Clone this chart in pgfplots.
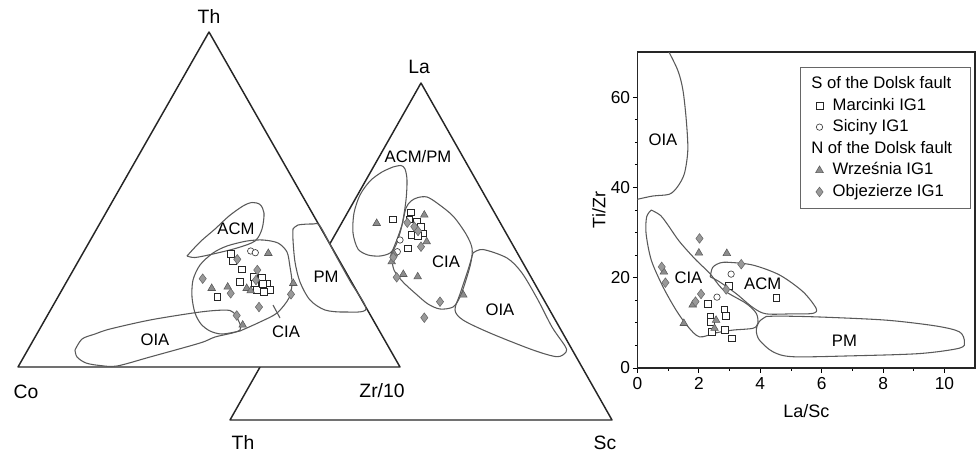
\documentclass[border=0pt]{standalone}
\usepackage{pgfplots}
\pgfplotsset{compat=1.18}
\usepackage{fontspec}
\setmainfont{Liberation Sans}
\newcommand{\fs}{\fontsize{12.5}{15}\selectfont}
\newcommand{\fv}{\fontsize{14.5}{17}\selectfont}
\pgfplotsset{
  marc/.style={only marks, mark=square*, mark size=2.5pt, mark options={fill=white, draw=black!85, line width=0.5pt}},
  sic/.style={only marks, mark=*, mark size=2.4pt, mark options={fill=white, draw=black!75, line width=0.5pt}},
  wrz/.style={only marks, mark=triangle*, mark size=3.3pt, mark options={fill=black!45, draw=black!65, line width=0.4pt}},
  obj/.style={only marks, mark=diamond*, mark size=3.6pt, mark options={fill=black!40, draw=black!60, line width=0.4pt}},
  blob/.style={no marks, smooth, draw=black!65, line width=0.8pt},
  edge/.style={no marks, sharp plot, draw=black!85, line width=1.1pt, line join=round, line cap=round},
}
\begin{document}
\begin{tikzpicture}
\useasboundingbox (0pt,0pt) rectangle (732pt,-340.5pt);
% ---------------- ternary diagrams (pixel frame of the figure) ----------------
\begin{axis}[at={(0pt,0pt)}, anchor=north west, hide axis, clip=false,
  x=0.75pt, y=0.75pt, y dir=reverse, xmin=0, xmax=976, ymin=0, ymax=454]
% triangle 2: La - Th - Sc
\addplot[edge] coordinates {(230,420) (612,420) (421,83) (230,420)};
\addplot[blob] coordinates {(393,167) (401,165.5) (405,169) (407,180) (406,200) (402,225) (396,245) (390,253) (380,256) (368,255) (358,249) (353,233) (354,213) (360,195) (370,181) (382,172) (393,167)};
\addplot[blob] coordinates {(391,254) (396,242) (402,225) (406,208) (411,201) (418,197.5) (427,197) (437,203) (453,216) (466,234) (472,248) (471,262) (466,280) (460,297) (453,307) (440,309) (428,304) (416,294) (403,282) (394,270) (391,254)};
\addplot[blob] coordinates {(473,253) (483,249.5) (507,258) (522,273) (538,300) (552,327) (565,346) (566,352) (557,356.7) (533,350) (490,333) (463,320) (455,310) (460,294) (468,270) (473,253)};
\addplot[marc] coordinates {(392.7,219.3) (410.7,212.3) (409.3,219.3) (416.7,221.7) (420.7,226.7) (423.3,233.3) (411.7,235) (417.7,236) (407.7,248.3)};
\addplot[sic] coordinates {(400,240) (397.3,251.7)};
\addplot[wrz] coordinates {(376.7,223.3) (424.3,215) (426.7,241.7) (394,254) (391.7,261.7) (403.3,274.3) (417.7,276.7) (463.3,295)};
\addplot[obj] coordinates {(407.3,222.7) (414.3,226.7) (418,231) (421,246.7) (393.3,257.3) (396.7,277.3) (440,301.7) (424.3,317.7)};
\node[font=\fv] at (419,67) {La};
\node[font=\fv] at (243,442) {Th};
\node[font=\fv] at (605,443) {Sc};
\node[font=\fs] at (418,157) {ACM/PM};
\node[font=\fs] at (446,262) {CIA};
\node[font=\fs] at (500,310) {OIA};
% triangle 1: Th - Co - Zr/10
\addplot[edge, fill=white] coordinates {(18,367) (400,367) (209,32) (18,367)};
\addplot[blob] coordinates {(187,256) (200,242) (215,229) (229,216) (243,206) (252,202.5) (260,204.5) (264,213) (262,229) (255,241) (237,248) (213,254) (195,257.5) (187,256)};
\addplot[blob] coordinates {(240,331) (260,322) (277,313) (289,298) (292,283) (290,267) (287,252) (278,243) (263,240) (247,241) (227,246) (213,253) (200,265) (193,280) (192,297) (195,313) (201,324) (210,331) (222,334) (240,331)};
\addplot[blob] coordinates {(75,350) (82,339) (95,334) (110,329) (150,320) (193,313) (215,310.5) (230,310.5) (236,316) (240,330) (215,337) (200,343) (150,357) (117,366) (100,365.5) (86,363) (77,357) (75,350)};
\addplot[blob] coordinates {(293,229) (298,225) (313,224) (320,226) (335,254) (350,281) (366,309) (345,312) (325,310) (310,300) (300,282) (295,262) (293,240) (293,229)};
\addplot[no marks, draw=black!65, line width=0.8pt] coordinates {(273,305) (280,318)};
\addplot[marc] coordinates {(231,254) (233,261) (241.7,269.3) (240,281.7) (217.3,296.7) (254,276.7) (261.7,277.3) (255,283.3) (267.3,283.3) (270,290) (264,291.7) (256.7,290) (262.7,284)};
\addplot[sic] coordinates {(250.7,251) (255.3,252.7)};
\addplot[wrz] coordinates {(268.3,253.3) (211.7,288.3) (227.7,287) (246.7,288.3) (250.7,290.7) (293.3,283.3) (242.7,325)};
\addplot[obj] coordinates {(237.3,259.3) (202.7,278.7) (257.3,270) (256,280) (230.7,293.3) (291,294.3) (259,307) (236.7,315.5)};
\node[font=\fv] at (209,16) {Th};
\node[font=\fv] at (26,392) {Co};
\node[font=\fv] at (382,391) {Zr/10};
\node[font=\fs] at (236,229) {ACM};
\node[font=\fs] at (286,332) {CIA};
\node[font=\fs] at (155,340) {OIA};
\node[font=\fs] at (326,277) {PM};
\end{axis}
% ---------------- La/Sc vs Ti/Zr ----------------
\begin{axis}[at={(478.1pt,-276pt)}, anchor=south west, scale only axis,
  width=253.3pt, height=237pt,
  xmin=0, xmax=11, ymin=0, ymax=70,
  xtick={0,2,4,6,8,10}, ytick={0,20,40,60},
  minor x tick num=1, minor y tick num=3,
  tick align=outside, tick pos=left,
  major tick length=3.5pt, minor tick length=2pt,
  every tick/.style={black, line width=0.6pt},
  axis line style={line width=1.1pt, black!85},
  tick label style={font=\fontsize{13}{15}\selectfont},
  yticklabel style={xshift=1.5pt},
  /pgf/number format/assume math mode=true,
  xlabel={La/Sc}, ylabel={Ti/Zr},
  xlabel shift=4pt, ylabel shift=-3pt,
  label style={font=\fontsize{13.5}{16}\selectfont},
  legend style={at={(0.985,0.953)}, anchor=north east, draw=black!60, font=\fs,
    row sep=0pt, column sep=5pt, inner xsep=6pt, inner ysep=4.5pt,
    nodes={inner sep=2pt, text height=9.5pt, text depth=2.7pt}},
  legend cell align=left,
]
\addplot[blob, forget plot] coordinates {(-0.05,37.3) (0.5,38.1) (1.04,38.5) (1.31,40.2) (1.53,43.1) (1.64,48.3) (1.59,54.9) (1.48,61.6) (1.31,66) (0.95,71)};
\addplot[blob, forget plot] coordinates {(0.45,35) (0.75,33.8) (1.0,31.6) (1.37,28) (1.91,23.9) (2.35,21) (2.8,17.3) (3.54,14.3) (3.87,12.1) (3.92,9.9) (3.76,8.8) (3.11,8.4) (2.56,7.8) (2.02,6.9) (1.64,9.2) (1.26,12.8) (0.83,18) (0.45,23.9) (0.28,29.8) (0.3,33.5) (0.45,35)};
\addplot[blob, forget plot] coordinates {(2.37,20.2) (2.45,22.3) (2.7,23.3) (3.0,23.4) (3.76,22.8) (4.63,20.6) (5.39,16.9) (5.82,13.2) (5.71,12.1) (5.06,12.0) (4.19,12.0) (3.76,13.4) (3.21,16.5) (2.67,19.1) (2.37,20.2)};
\addplot[blob, forget plot] coordinates {(4.19,11.4) (4.63,11.5) (5.93,11.3) (8.1,10.6) (9.73,9.3) (10.49,8.0) (10.65,5.8) (10.49,4.4) (9.19,3.2) (7.01,2.7) (5.06,2.5) (4.41,3.6) (3.97,6.2) (3.87,8.4) (3.97,10.3) (4.19,11.4)};
\node[font=\fs] at (0.83,50.5) {OIA};
\node[font=\fs] at (1.66,19.9) {CIA};
\node[font=\fs] at (4.08,18.6) {ACM};
\node[font=\fs] at (6.74,6.05) {PM};
\addlegendimage{empty legend}\addlegendentry{\hspace*{-16pt}S of the Dolsk fault\hspace*{6pt}}
\addplot[marc] coordinates {(2.98,18.2) (4.52,15.6) (2.29,14.2) (2.83,13.0) (2.87,11.6) (2.37,11.4) (2.40,10.3) (2.43,8.0) (2.85,8.4) (3.07,6.6)};
\addlegendentry{Marcinki IG1}
\addplot[sic] coordinates {(3.05,20.8) (2.59,15.7)};
\addlegendentry{Siciny IG1}
\addlegendimage{empty legend}\addlegendentry{\hspace*{-16pt}N of the Dolsk fault}
\addplot[wrz] coordinates {(2.0,25.5) (2.91,25.4) (0.86,21.3) (1.80,14.0) (1.51,9.9) (2.56,10.6) (2.51,8.8)};
\addlegendentry{Września IG1}
\addplot[obj] coordinates {(2.02,28.7) (3.38,23.0) (0.79,22.4) (0.91,18.9) (2.07,16.4) (1.89,14.7) (2.89,17.4)};
\addlegendentry{Objezierze IG1}
\end{axis}
\end{tikzpicture}
\end{document}
